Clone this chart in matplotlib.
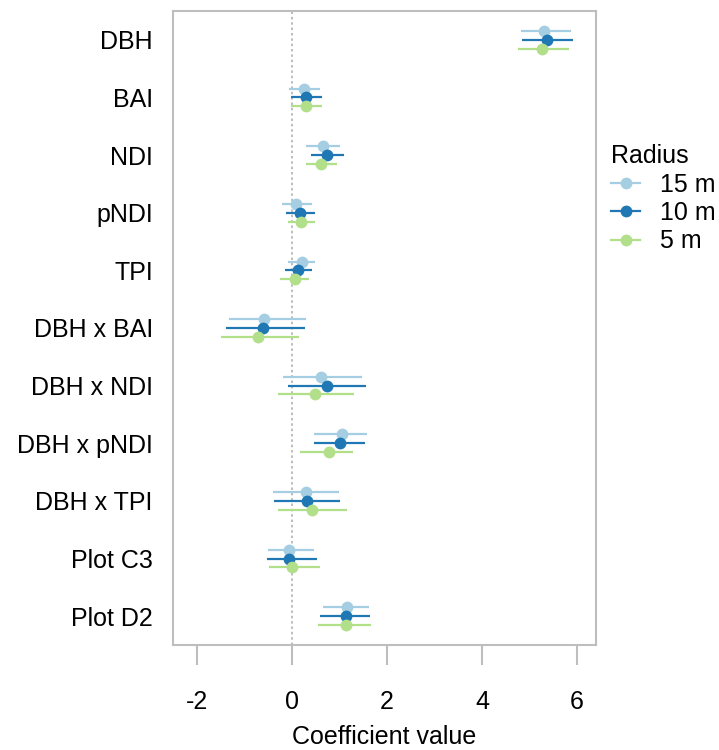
import matplotlib
matplotlib.use("Agg")
import matplotlib.pyplot as plt
from matplotlib.lines import Line2D
import numpy as np

plt.rcParams['font.family'] = ['Liberation Sans', 'DejaVu Sans']

terms = ["DBH", "BAI", "NDI", "pNDI", "TPI", "DBH x BAI", "DBH x NDI",
         "DBH x pNDI", "DBH x TPI", "Plot C3", "Plot D2"]
radii = ["15 m", "10 m", "5 m"]
colors = ["#a6cee3", "#1f78b4", "#b2df8a"]

est_15 = [5.31, 0.26, 0.65, 0.08, 0.21, -0.58, 0.62, 1.05, 0.29, -0.06, 1.16]
lo_15 = [4.82, -0.06, 0.29, -0.20, -0.08, -1.33, -0.19, 0.46, -0.39, -0.50, 0.65]
hi_15 = [5.87, 0.59, 1.02, 0.42, 0.49, 0.29, 1.47, 1.57, 0.98, 0.47, 1.63]

est_10 = [5.36, 0.29, 0.74, 0.16, 0.13, -0.60, 0.73, 1.02, 0.32, -0.06, 1.13]
lo_10 = [4.85, -0.03, 0.40, -0.13, -0.15, -1.38, -0.08, 0.46, -0.37, -0.52, 0.58]
hi_10 = [5.92, 0.63, 1.09, 0.48, 0.42, 0.28, 1.56, 1.53, 1.02, 0.52, 1.64]

est_5 = [5.27, 0.29, 0.61, 0.20, 0.06, -0.72, 0.49, 0.77, 0.43, 0.01, 1.13]
lo_5 = [4.76, -0.03, 0.29, -0.08, -0.25, -1.50, -0.29, 0.17, -0.29, -0.48, 0.55]
hi_5 = [5.83, 0.63, 0.95, 0.48, 0.36, 0.14, 1.31, 1.28, 1.16, 0.60, 1.66]

xticks = [-2, 0, 2, 4, 6]

series = [(est_15, lo_15, hi_15), (est_10, lo_10, hi_10), (est_5, lo_5, hi_5)]
offsets = [-0.153, 0.0, 0.153]

fig = plt.figure(figsize=(7.19, 7.5), dpi=100)
ax = fig.add_axes([173/719, 1 - 645/750, (596-173)/719, (645-11)/750])

grey = "#bebebe"
ax.axvline(0, color="#aaaaaa", lw=1.1, linestyle=(0, (1.6, 1.9)), zorder=1)

ypos = np.arange(len(terms))
for (est, lo, hi), off, col in zip(series, offsets, colors):
    y = ypos + off
    ax.hlines(y, lo, hi, colors=col, lw=1.6, zorder=2)
    ax.plot(est, y, 'o', color=col, ms=8.5, mec='none', zorder=3)

ax.set_ylim(len(terms) - 0.5, -0.5)
ax.set_xlim(-2.505, 6.4)
ax.set_yticks(ypos)
ax.set_yticklabels(terms, fontsize=18)
ax.tick_params(axis='y', length=0, pad=14.5)
ax.set_xticks(xticks)
ax.set_xticklabels([str(t) for t in xticks], fontsize=18)
ax.tick_params(axis='x', length=14.4, width=1.5, color=grey, pad=18, direction='out')
for s in ax.spines.values():
    s.set_color(grey)
    s.set_linewidth(1.5)

fig.text(384.5/719, 1 - 737/750, "Coefficient value", fontsize=18,
         ha='center', va='center')

handles = [Line2D([0], [0], color=c, lw=1.6, marker='o', ms=8.5, mec='none')
           for c in colors]
leg = fig.legend(handles, radii, title="Radius", loc='upper left',
                 bbox_to_anchor=(611/719, 1 - 144/750), frameon=False,
                 fontsize=18, title_fontsize=18, handlelength=1.16,
                 handletextpad=0.8, labelspacing=0.18, borderaxespad=0,
                 borderpad=0)
leg._legend_box.align = "left"

fig.savefig("out.png", dpi=100)
